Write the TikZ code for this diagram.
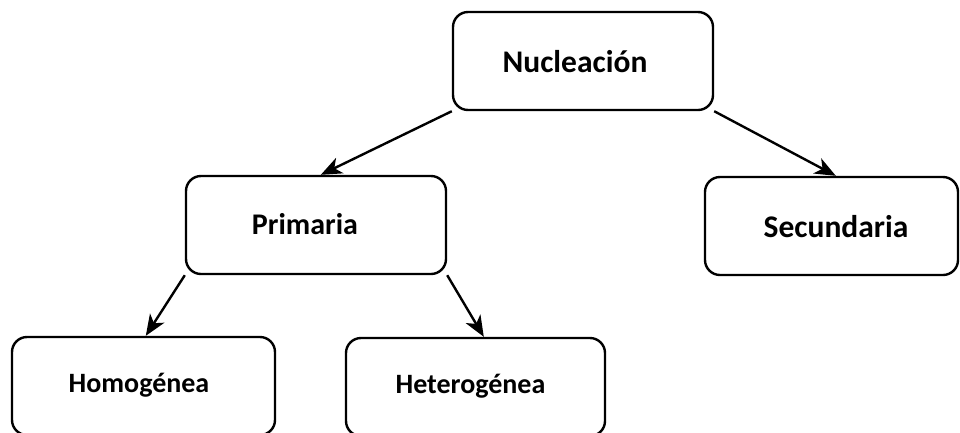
\documentclass[tikz,border=0pt]{standalone}
\usepackage{fontspec}
\setmainfont{Carlito}
\usetikzlibrary{arrows.meta,calc}
\tikzset{
  box/.style={draw=black, line width=2.4pt, rounded corners=15pt, inner sep=0pt,
    minimum height=98pt, text height=22pt, text depth=0pt, font=\bfseries\fontsize{30}{36}\selectfont},
  bigbox/.style={box, font=\bfseries\fontsize{31.5}{38}\selectfont},
  smallbox/.style={box, text height=12pt, font=\bfseries\fontsize{28}{34}\selectfont},
  conn/.style={line width=2.4pt, -{Stealth[length=21pt, width=17pt, inset=6pt]}}
}
\begin{document}
\begin{tikzpicture}[x=1pt, y=-1pt]
\useasboundingbox (0,0) rectangle (960,432);
\clip (0,0) rectangle (960,432);
\node[bigbox, minimum width=260pt] (nuc) at (583,61) {Nucleación\hspace*{16pt}};
\node[box, minimum width=260pt, text height=18pt] (prim) at (316,225) {Primaria\hspace*{22pt}};
\node[bigbox, minimum width=253pt] (sec) at (831.5,226) {\hspace*{9pt}Secundaria};
\node[smallbox, minimum width=263pt] (hom) at (143.5,386) {Homogénea\hspace*{9pt}};
\node[smallbox, minimum width=259pt] (het) at (475.5,387) {Heterogénea\hspace*{10pt}};
\draw[conn] (nuc.south west) -- ($(prim.north west)+(136,0)$);
\draw[conn] (nuc.south east) -- ($(sec.north west)+(132,0)$);
\draw[conn] (prim.south west) -- ($(hom.north west)+(135,0)$);
\draw[conn] (prim.south east) -- ($(het.north west)+(139,0)$);
\end{tikzpicture}
\end{document}
